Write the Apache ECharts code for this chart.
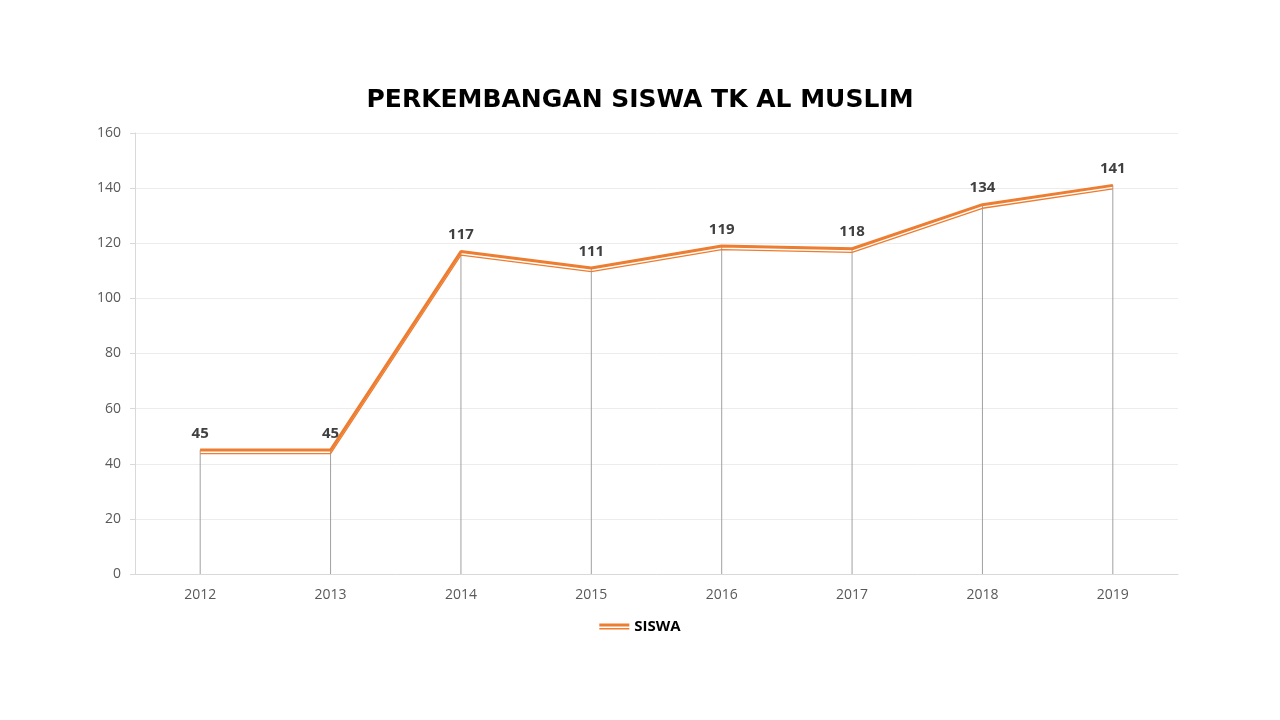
<!DOCTYPE html>
<html lang="id">
<head>
    <meta charset="utf-8">
    <title>Perkembangan Siswa TK Al Muslim</title>
    <script src="https://cdn.jsdelivr.net/npm/echarts@6.0.0/dist/echarts.min.js"></script>
    <style>
        html, body { margin: 0; padding: 0; background: #fff; }
        #main { width: 1280px; height: 720px; }
    </style>
</head>
<body>
<div id="main"></div>
<script type="text/javascript">
    // data
    var years = ['2012', '2013', '2014', '2015', '2016', '2017', '2018', '2019'];
    var siswa = [45, 45, 117, 111, 119, 118, 134, 141];

    var orange = '#ED7D31';

    var myChart = echarts.init(document.getElementById('main'));

    var option = {
        animation: false,
        title: {
            text: 'PERKEMBANGAN SISWA TK AL MUSLIM',
            left: 'center',
            top: 83,
            textStyle: {
                fontFamily: 'DejaVu Sans',
                fontWeight: 'bold',
                fontSize: 25,
                color: '#000'
            }
        },
        legend: {
            data: ['SISWA'],
            bottom: 81,
            left: 'center',
            itemWidth: 30,
            itemHeight: 6,
            itemGap: 0,
            icon: 'path://M0,0 H30 V3 H0 Z M0,4.5 H30 V6 H0 Z',
            textStyle: {
                fontFamily: 'Open Sans',
                fontWeight: 'bold',
                fontSize: 15,
                color: '#000',
                padding: [0, 0, 0, 0]
            }
        },
        grid: {
            left: 135,
            right: 102,
            top: 133,
            bottom: 146,
            containLabel: false
        },
        xAxis: {
            type: 'category',
            data: years,
            boundaryGap: true,
            axisLine: { lineStyle: { color: '#d9d9d9', width: 1 } },
            axisTick: { show: false },
            axisLabel: {
                color: '#595959',
                fontFamily: 'Open Sans',
                fontSize: 14,
                margin: 14
            }
        },
        yAxis: {
            type: 'value',
            min: 0,
            max: 160,
            interval: 20,
            axisLine: { show: true, lineStyle: { color: '#d9d9d9' } },
            axisTick: { show: true, length: 5, lineStyle: { color: '#d9d9d9' } },
            splitLine: { lineStyle: { color: '#ececec' } },
            axisLabel: {
                color: '#595959',
                fontFamily: 'Open Sans',
                fontSize: 14,
                margin: 14
            }
        },
        series: [
            {
                // drop lines down to the axis
                name: 'drop',
                type: 'bar',
                data: siswa,
                barWidth: 1,
                silent: true,
                itemStyle: { color: '#a0a0a0' },
                z: 1
            },
            {
                // thin lower stroke of the double line
                name: 'SISWA-thin',
                type: 'line',
                data: siswa,
                symbol: 'none',
                silent: true,
                lineStyle: {
                    color: orange,
                    width: 1.3,
                    shadowColor: orange,
                    shadowBlur: 0,
                    shadowOffsetY: 3.6
                },
                z: 2
            },
            {
                name: 'SISWA',
                type: 'line',
                data: siswa,
                symbol: 'circle',
                symbolSize: 0.1,
                showSymbol: true,
                color: orange,
                lineStyle: { color: orange, width: 3 },
                label: {
                    show: true,
                    position: 'top',
                    distance: 9,
                    fontFamily: 'Open Sans',
                    fontWeight: 'bold',
                    fontSize: 15,
                    color: '#404040'
                },
                z: 3
            }
        ]
    };

    myChart.setOption(option);
</script>
</body>
</html>
